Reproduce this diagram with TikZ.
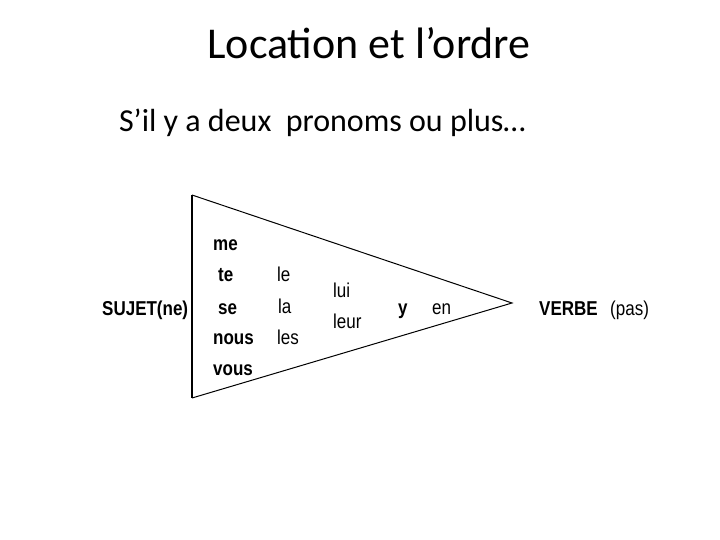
\documentclass[tikz,border=0pt]{standalone}
\usepackage{fontspec}
\usepackage{graphicx}
\setmainfont{Liberation Sans}
\newfontfamily\calib{Carlito}
\newcommand{\tallword}[1]{\scalebox{1}[1.18]{#1}}
\begin{document}
\begin{tikzpicture}[x=1pt,y=-1pt,
  word/.style={anchor=base west,inner sep=0pt,font=\fontsize{17}{19}\selectfont},
  bword/.style={word,font=\fontsize{17}{19}\selectfont\bfseries},
  edge/.style={line width=1pt,black}]
\useasboundingbox (0,0) rectangle (720,540);
\fill[white] (0,0) rectangle (720,540);
% titles
\node[anchor=base,inner sep=0pt,font=\calib\fontsize{44}{50}\selectfont] (title) at (369,59) {Location et l’ordre};
\node[anchor=base west,inner sep=0pt,font=\calib\fontsize{32}{38}\selectfont] (sub) at (119,132) {S’il y a deux~ pronoms ou plus…};
% triangle
\coordinate (tl) at (192,195);
\coordinate (bl) at (192,398);
\coordinate (ap) at (512,303);
\draw[line width=1.6pt] (tl) -- (bl);
\draw[edge] (tl) -- (ap) -- (bl);
% words
\node[bword] (sujet) at (102,315) {\tallword{SUJET(ne)}};
\node[bword] (me) at (213,250) {\tallword{me}};
\node[bword] (te) at (218,281.5) {\tallword{te}};
\node[bword] (se) at (218,314) {\tallword{se}};
\node[bword] (nous) at (213,344) {\tallword{nous}};
\node[bword] (vous) at (213,375) {\tallword{vous}};
\node[word] (le) at (277,281.5) {\tallword{le}};
\node[word] (la) at (278,313) {\tallword{la}};
\node[word] (les) at (277,344) {\tallword{les}};
\node[word] (lui) at (333,297) {\tallword{lui}};
\node[word] (leur) at (333,328) {\tallword{leur}};
\node[bword] (y) at (398,314) {\tallword{y}};
\node[word] (en) at (432,314) {\tallword{en}};
\node[bword] (verbe) at (539,315) {\tallword{VERBE}};
\node[word] (pas) at (610,315) {\tallword{(pas)}};
\end{tikzpicture}
\end{document}
